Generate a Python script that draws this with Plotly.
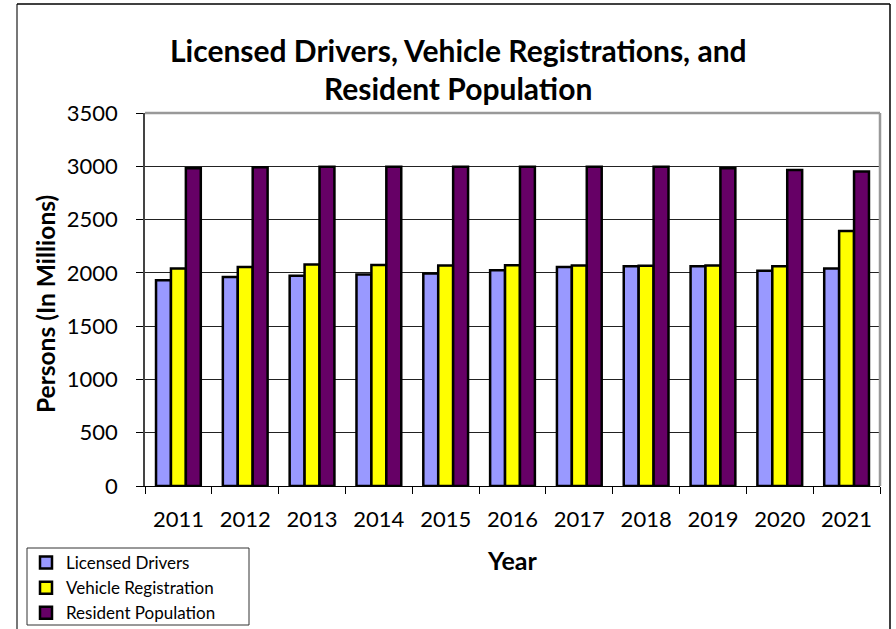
"""Licensed drivers, vehicle registrations and resident population by year."""

import plotly.graph_objects as go

years = ["2011", "2012", "2013", "2014", "2015", "2016", "2017", "2018", "2019", "2020", "2021"]
licensed_drivers = [1930, 1962, 1972, 1984, 1995, 2025, 2056, 2062, 2063, 2020, 2040]
vehicle_registration = [2040, 2056, 2078, 2073, 2070, 2072, 2070, 2066, 2068, 2063, 2392]
resident_population = [2981, 2990, 2996, 2995, 2995, 2995, 2995, 2995, 2982, 2966, 2950]

FONT = "Lato, 'Open Sans', sans-serif"

series = [
    ("Licensed Drivers", licensed_drivers, "#9999FF"),
    ("Vehicle Registration", vehicle_registration, "#FFFF00"),
    ("Resident Population", resident_population, "#660066"),
]

fig = go.Figure()

for name, values, color in series:
    fig.add_trace(
        go.Bar(
            x=years,
            y=values,
            name=name,
            marker={"color": color, "line": {"color": "black", "width": 2.5}},
        )
    )

# plot area in pixels: x 145..880, y 113..486
plot_w = 880 - 145
plot_h = 486 - 113


def px_x(x):
    return (x - 145) / plot_w


def px_y(y):
    return (486 - y) / plot_h


def line(x0, y0, x1, y1, color, width):
    return {"type": "line", "xref": "paper", "yref": "paper",
            "x0": px_x(x0), "y0": px_y(y0), "x1": px_x(x1), "y1": px_y(y1),
            "line": {"color": color, "width": width}}


shapes = [
    # outer chart border
    line(17, 4, 17, 640, "#777", 2),
    line(17, 4, 890, 4, "black", 1.5),
    line(890, 4, 890, 640, "black", 1.5),
    # plot area frame (top and right)
    line(145, 113, 880, 113, "#999", 2.5),
    line(880, 113, 880, 486, "#999", 2.5),
    # legend box
    {"type": "rect", "xref": "paper", "yref": "paper",
     "x0": px_x(27), "y0": px_y(548), "x1": px_x(249), "y1": px_y(625),
     "line": {"color": "#333", "width": 1}},
]


def label(text, x, y, size, angle=0):
    return {"text": text, "xref": "paper", "yref": "paper", "x": px_x(x), "y": px_y(y),
            "xanchor": "center", "yanchor": "middle", "showarrow": False,
            "textangle": angle, "font": {"size": size}}


annotations = [
    label("<b>Licensed Drivers, Vehicle Registrations, and</b>", 458, 50, 30),
    label("<b>Resident Population</b>", 458, 88, 30),
    label("<b>Persons (In Millions)</b>", 45, 304, 24.5, -90),
    label("<b>Year</b>", 512, 560, 25),
]

fig.update_layout(
    width=896,
    height=629,
    margin={"l": 145, "r": 16, "t": 113, "b": 143, "autoexpand": False},
    paper_bgcolor="white",
    plot_bgcolor="white",
    font={"family": FONT, "color": "black", "size": 21},
    barmode="group",
    bargap=0.33,
    bargroupgap=0,
    showlegend=True,
    legend={
        "x": px_x(26),
        "y": px_y(545),
        "xanchor": "left",
        "yanchor": "top",
        "bgcolor": "rgba(0,0,0,0)",
        "borderwidth": 0,
        "font": {"size": 17, "family": FONT},
        "tracegroupgap": 0,
        "itemwidth": 30,
        "traceorder": "normal",
    },
    xaxis={
        "showgrid": False,
        "showline": True,
        "linecolor": "black",
        "linewidth": 1,
        "ticks": "outside",
        "tickson": "boundaries",
        "ticklen": 7,
        "tickcolor": "black",
        "tickfont": {"size": 22},
        "ticklabelstandoff": 14,
    },
    yaxis={
        "range": [0, 3500],
        "dtick": 500,
        "showgrid": True,
        "gridcolor": "#222",
        "gridwidth": 1,
        "zeroline": False,
        "showline": True,
        "linecolor": "#444",
        "linewidth": 1.5,
        "ticks": "outside",
        "ticklen": 7,
        "tickcolor": "black",
        "tickfont": {"size": 22},
        "ticklabelstandoff": 14,
    },
    shapes=shapes,
    annotations=annotations,
)

# drop the browser's default body margin so the figure sits at the window corner
fig.write_html(
    "out.html",
    config={"displayModeBar": False},
    post_script="document.body.style.margin = '0';",
)
